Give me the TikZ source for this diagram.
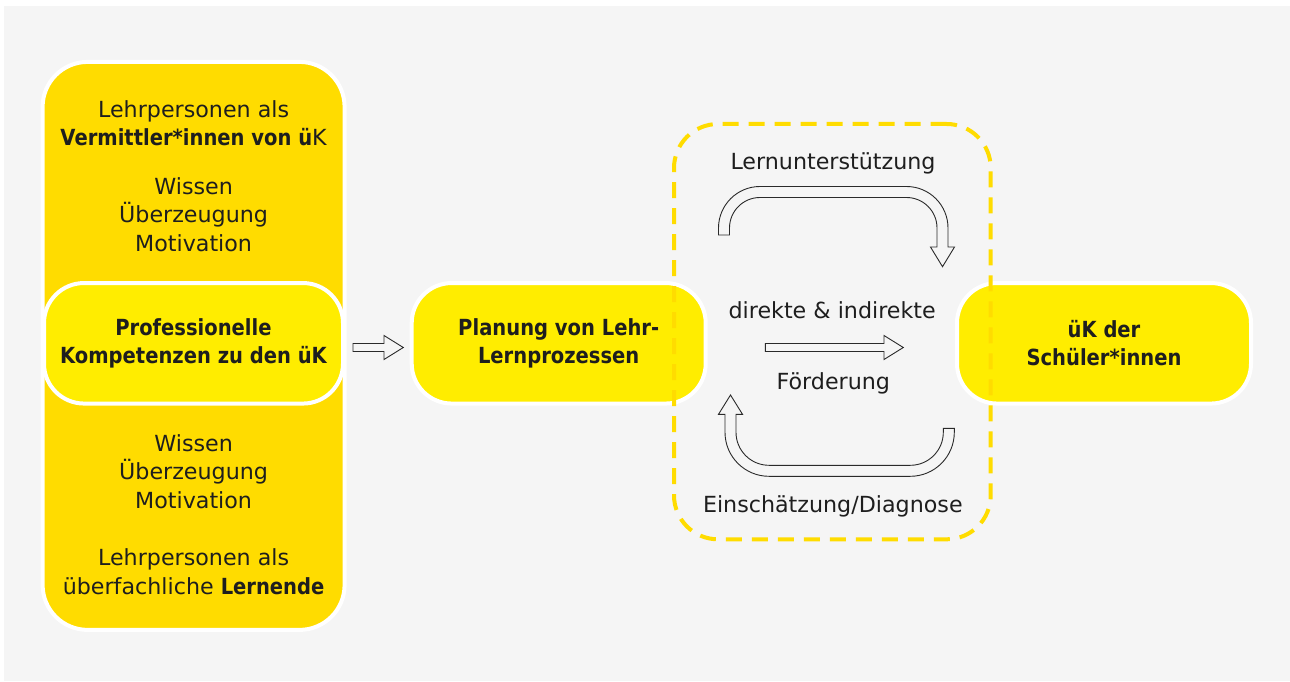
\documentclass[tikz,border=0pt]{standalone}
\usepackage{fontspec}
\setmainfont{DejaVu Sans}[BoldFeatures={FakeStretch=0.88}]
\usepackage{xcolor}
\usepackage{tikz}
\usetikzlibrary{calc, positioning}

\definecolor{bgGray}{HTML}{F5F5F5}
\definecolor{kompGold}{HTML}{FFDC00}
\definecolor{kompYellow}{HTML}{FFED00}
\definecolor{textDark}{HTML}{1E1E1E}
\definecolor{arrowDark}{HTML}{2A2A2A}

\newcommand{\diagfont}{\fontsize{22.2pt}{28.5pt}\selectfont}
% hollow block arrow: #1 = tail point, #2 = shaft length
\newcommand{\blockarrow}[2]{%
  \draw[hollow] #1 ++(0,-4) -- ++(#2,0) -- ++(0,-8) -- ++(19.3,12) -- ++(-19.3,12)
    -- ++(0,-8) -- ++(-#2,0) -- cycle;}

\tikzset{
    columnnode/.style = {draw=white, line width=4pt, fill=kompGold, rectangle, rounded corners=45pt,
      minimum width=302pt, minimum height=568pt, inner sep=0pt, outer sep=0pt},
    boxnode/.style = {draw=white, line width=4pt, fill=kompYellow, rectangle, rounded corners=40pt,
      minimum width=294pt, minimum height=120.5pt, inner sep=0pt, outer sep=0pt, text=textDark,
      font=\diagfont\bfseries},
    textnode/.style = {draw=none, fill=none, rectangle, inner sep=0pt, text=textDark, font=\diagfont},
    loopnode/.style = {draw=kompGold, fill=none, rectangle, line width=4pt, dash pattern=on 16pt off 10pt,
      rounded corners=44pt, minimum width=316.7pt, minimum height=415.3pt, inner sep=0pt},
    hollow/.style = {draw=arrowDark, fill=bgGray, line width=0.9pt, line join=miter},
    every text node part/.style={align=center}
}

\begin{document}
\begin{tikzpicture}[x=1pt, y=-1pt]
\useasboundingbox (0,0) rectangle (1290,682);
\fill[white] (0,0) rectangle (1290,682);
\fill[bgGray] (4,6) rectangle (1290,681);

% left column
\node[columnnode, name=column] at (193.6,345.9) {};
\node[textnode, name=mediator] at (193.6,123) {Lehrpersonen als\\ \textbf{Vermittler*innen von ü}K};
\node[textnode, name=aspectsTop] at (193.6,214.7) {Wissen\\Überzeugung\\Motivation};
\node[textnode, name=aspectsBot] at (193.6,471.4) {Wissen\\Überzeugung\\Motivation};
\node[textnode, name=learner] at (193.6,571.8) {Lehrpersonen als\\überfachliche \textbf{Lernende}};
\node[boxnode, name=prof, minimum width=299pt] at (193.5,343.3) {Professionelle\\Kompetenzen zu den üK};

% planning and students
\node[boxnode, name=plan, right=68.7pt of prof] {Planung von Lehr-\\Lernprozessen};
\node[boxnode, name=pupils, right=251.3pt of plan] {üK der\\Schüler*innen};

\coordinate (toplan) at ($(prof.east)+(10,4.2)$);
\blockarrow{(toplan)}{31}
\coordinate (topupils) at ($(plan.east)+(59.6,4.2)$);
\blockarrow{(topupils)}{118.7}

% support loop (top) and diagnosis loop (bottom)
\draw[hollow] (718.5,235) -- (718.5,228) arc[start angle=180, end angle=270, radius=41.5]
  -- (906.5,186.5) arc[start angle=270, end angle=360, radius=41.5]
  -- (948,247) -- (954.5,247) -- (942.5,266.7) -- (930.5,247) -- (937,247) -- (937,228)
  arc[start angle=0, end angle=-90, radius=30.5] -- (760,197.5)
  arc[start angle=270, end angle=180, radius=30.5] -- (729.5,235) -- cycle;
\draw[hollow] (954.3,428.3) -- (954.3,432.3) arc[start angle=0, end angle=90, radius=44]
  -- (769,476.3) arc[start angle=90, end angle=180, radius=44]
  -- (725,414.3) -- (718.5,414.3) -- (730.5,395) -- (742.5,414.3) -- (736,414.3) -- (736,432.3)
  arc[start angle=180, end angle=90, radius=33] -- (910.3,465.3)
  arc[start angle=90, end angle=0, radius=33] -- (943.3,428.3) -- cycle;

\node[textnode, name=support, anchor=base] at (833,169.3) {Lernunterstützung};
\node[textnode, name=direct, anchor=base] at (832.2,318.3) {direkte \& indirekte};
\node[textnode, name=promote, anchor=base] at (833.3,389) {Förderung};
\node[textnode, name=diagnose, anchor=base] at (832.8,512.7) {Einschätzung/Diagnose};

\node[loopnode, name=loop] at (832.35,331.65) {};
\end{tikzpicture}
\end{document}
